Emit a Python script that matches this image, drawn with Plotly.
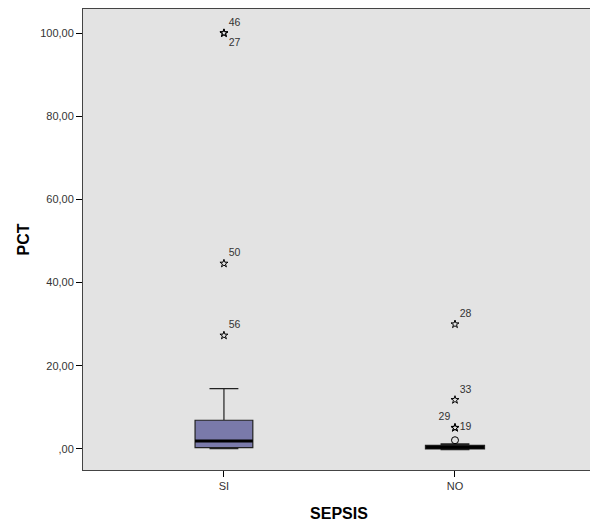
import plotly.graph_objects as go

# ---- data ----
groups = ["SI", "NO"]
group_pos = [0, 1]
q1 = [0.3, 0.2]
median = [1.9, 0.4]
q3 = [6.9, 0.7]
lower_fence = [0.1, 0.0]
upper_fence = [14.5, 1.1]

# extreme outliers (stars): group index, value, case label, label position
star_group = [0, 0, 0, 0, 1, 1, 1, 1]
star_value = [100.0, 100.0, 44.6, 27.3, 30.0, 11.8, 5.1, 5.1]
star_label = ["46", "27", "50", "56", "28", "33", "29", "19"]
star_textpos = ["top right", "bottom right", "top right", "top right",
                "top right", "top right", "top left", "middle right"]

# mild outliers (circles)
circle_group = [1]
circle_value = [2.1]

y_tickvals = [0, 20, 40, 60, 80, 100]
y_ticktext = [",00", "20,00", "40,00", "60,00", "80,00", "100,00"]

box_fill = "rgb(122,122,170)"
box_width = 0.25

fig = go.Figure()
for i, g in enumerate(groups):
    fig.add_trace(go.Box(
        x=[group_pos[i]], q1=[q1[i]], median=[median[i]], q3=[q3[i]],
        lowerfence=[lower_fence[i]], upperfence=[upper_fence[i]],
        width=box_width, whiskerwidth=0.5,
        fillcolor=box_fill if i == 0 else "rgba(0,0,0,0)",
        line=dict(color="#222", width=1.2 if i == 0 else 2.5),
        boxpoints=False, showlegend=False, hoverinfo="skip",
    ))
    # thick median line
    fig.add_trace(go.Scatter(
        x=[group_pos[i] - box_width / 2, group_pos[i] + box_width / 2],
        y=[median[i], median[i]], mode="lines",
        line=dict(color="black", width=3), showlegend=False, hoverinfo="skip",
    ))

fig.add_trace(go.Scatter(
    x=[group_pos[g] for g in star_group], y=star_value,
    mode="markers+text", text=star_label, textposition=star_textpos,
    textfont=dict(family="Liberation Sans, Arial", size=10.5, color="#333"),
    marker=dict(symbol="star-open", size=6, color="black", line=dict(width=1)),
    showlegend=False, hoverinfo="skip", cliponaxis=False,
))
fig.add_trace(go.Scatter(
    x=[group_pos[g] for g in circle_group], y=circle_value,
    mode="markers",
    marker=dict(symbol="circle-open", size=7, color="black", line=dict(width=1)),
    showlegend=False, hoverinfo="skip",
))

fig.update_layout(
    width=590, height=517,
    margin=dict(l=75, r=3, t=1, b=55),
    paper_bgcolor="white", plot_bgcolor="#e3e3e3",
    font=dict(family="Liberation Sans, Arial", color="#333"),
    xaxis=dict(
        range=[-0.61, 1.606], tickvals=group_pos, ticktext=groups,
        ticks="outside", ticklen=6, tickcolor="black", tickfont=dict(size=11),
        showgrid=False, zeroline=False, showline=True, linecolor="#444",
        linewidth=1, mirror=True,
        title=dict(text="<b>SEPSIS</b>", font=dict(size=16, color="black"), standoff=16),
    ),
    yaxis=dict(
        range=[-5.06, 105.8], tickvals=y_tickvals, ticktext=y_ticktext,
        ticks="outside", ticklen=6, tickcolor="black", tickfont=dict(size=11),
        showgrid=False, zeroline=False, showline=True, linecolor="#444",
        linewidth=1, mirror=True,
        title=dict(text="<b>PCT</b>", font=dict(size=16, color="black"), standoff=6),
    ),
)

fig.write_html("out.html")
